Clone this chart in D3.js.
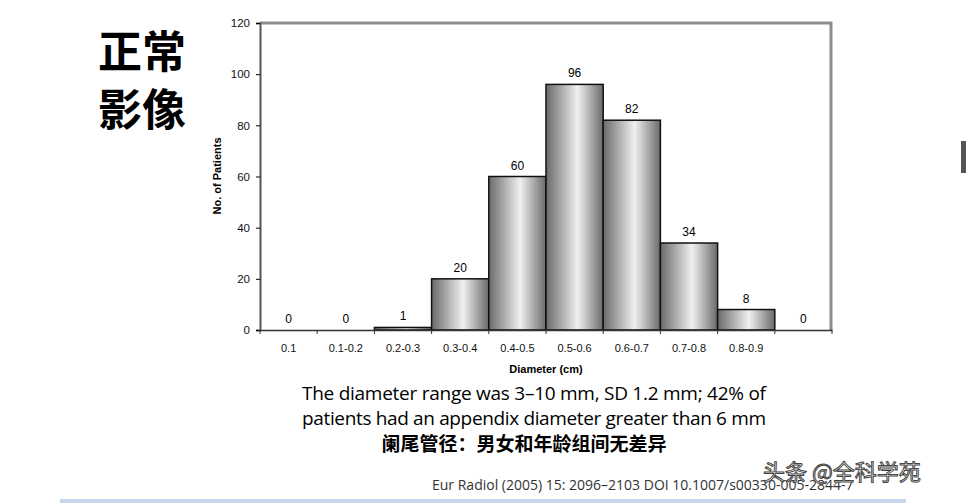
<!DOCTYPE html>
<html><head><meta charset="utf-8">
<script src="https://cdn.jsdelivr.net/npm/d3@7"></script>
<style>body{margin:0;background:#fff}</style>
</head><body>
<script>
// chart data
var categories = ['0.1','0.1-0.2','0.2-0.3','0.3-0.4','0.4-0.5','0.5-0.6','0.6-0.7','0.7-0.8','0.8-0.9',''];
var patients = [0,0,1,20,60,96,82,34,8,0];
var yTicks = [0,20,40,60,80,100,120];

var svg = d3.select('body').append('svg').attr('width',966).attr('height',503);

var grad = svg.append('defs').append('linearGradient').attr('id','bar');
grad.append('stop').attr('offset','0%').attr('stop-color','#6a6a6a');
grad.append('stop').attr('offset','55%').attr('stop-color','#f0f0f0');
grad.append('stop').attr('offset','100%').attr('stop-color','#6a6a6a');

var x = d3.scaleBand().domain(d3.range(categories.length)).range([260,832]).padding(0);
var y = d3.scaleLinear().domain([0,120]).range([330,23]);

// frame
svg.append('path').attr('d','M260,23H831V330').attr('fill','none').attr('stroke','#8c8c8c').attr('stroke-width',3);

svg.selectAll('rect.b').data(patients).enter().append('rect')
  .attr('x',function(d,i){return x(i);}).attr('y',function(d){return y(d);})
  .attr('width',x.bandwidth()).attr('height',function(d){return 330-y(d);})
  .attr('fill','url(#bar)').attr('stroke','#111').attr('stroke-width',1.5);

svg.selectAll('text.v').data(patients).enter().append('text')
  .attr('x',function(d,i){return x(i)+x.bandwidth()/2;})
  .attr('y',function(d){return y(d)-7;})
  .attr('text-anchor','middle').attr('font-family','Liberation Sans, Arial').attr('font-size',12)
  .text(function(d){return d;});

var ya = svg.append('g').attr('transform','translate(260,0)')
  .call(d3.axisLeft(y).tickValues(yTicks).tickSize(4).tickPadding(6));
ya.select('.domain').attr('stroke','#555').attr('stroke-width',2);
ya.selectAll('text').attr('font-family','Liberation Sans, Arial').attr('font-size',11.5).attr('fill','#111');

var xa = svg.append('g').attr('transform','translate(0,330)')
  .call(d3.axisBottom(x).tickFormat(function(i){return categories[i];}).tickSize(0).tickPadding(14));
xa.select('.domain').attr('stroke','#333').attr('stroke-width',1.5);
xa.selectAll('text').attr('font-family','Liberation Sans, Arial').attr('font-size',11).attr('fill','#111');
xa.selectAll('.tk').data(d3.range(categories.length+1)).enter().append('line').attr('class','tk')
  .attr('x1',function(i){return 260+i*x.bandwidth();}).attr('x2',function(i){return 260+i*x.bandwidth();})
  .attr('y1',0).attr('y2',4).attr('stroke','#333');

svg.append('text').attr('x',546).attr('y',373).attr('text-anchor','middle')
  .attr('font-family','Liberation Sans, Arial').attr('font-size',11).attr('font-weight','bold').text('Diameter (cm)');
svg.append('text').attr('transform','translate(221,176) rotate(-90)').attr('text-anchor','middle')
  .attr('font-family','Liberation Sans, Arial').attr('font-size',11).attr('font-weight','bold').text('No. of Patients');

var cjk = 'Noto Sans CJK SC';
svg.append('text').attr('x',98).attr('y',68).attr('font-family',cjk).attr('font-weight','bold').attr('font-size',44).text('正常');
svg.append('text').attr('x',98).attr('y',126).attr('font-family',cjk).attr('font-weight','bold').attr('font-size',44).text('影像');

svg.append('text').attr('x',534).attr('y',400).attr('text-anchor','middle').attr('font-family','Open Sans').attr('font-size',19)
  .attr('textLength',464).text('The diameter range was 3–10 mm, SD 1.2 mm; 42% of');
svg.append('text').attr('x',534).attr('y',425).attr('text-anchor','middle').attr('font-family','Open Sans').attr('font-size',19)
  .attr('textLength',464).text('patients had an appendix diameter greater than 6 mm');
svg.append('text').attr('x',524).attr('y',451).attr('text-anchor','middle').attr('font-family',cjk).attr('font-size',19).attr('font-weight','bold')
  .text('阑尾管径：男女和年龄组间无差异');
svg.append('text').attr('x',432).attr('y',490).attr('font-family','Open Sans').attr('font-size',14).attr('fill','#333')
  .text('Eur Radiol (2005) 15: 2096–2103 DOI 10.1007/s00330-005-2844-7');
svg.append('text').attr('x',763).attr('y',480).attr('font-family',cjk).attr('font-size',22).attr('fill','#fff')
  .attr('stroke','#444').attr('stroke-width',1).text('头条 @全科学苑');

svg.append('rect').attr('x',60).attr('y',499).attr('width',846).attr('height',4).attr('fill','#c5d5ec');
svg.append('rect').attr('x',961).attr('y',141).attr('width',5).attr('height',32).attr('fill','#555');
</script>
</body></html>
